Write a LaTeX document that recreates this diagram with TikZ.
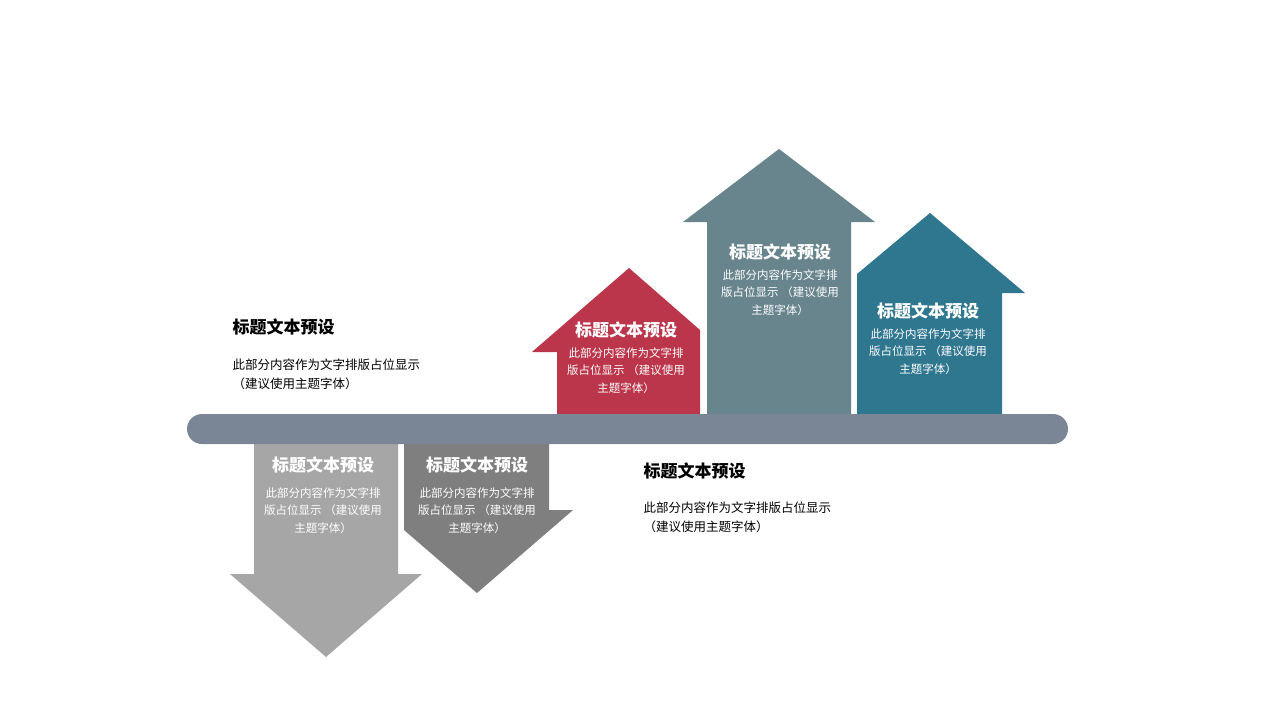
\documentclass[tikz,border=0pt]{standalone}
\usepackage{fontspec}
\setmainfont{Noto Sans CJK SC}
\usetikzlibrary{positioning}
\definecolor{cbar}{RGB}{122, 133, 149}
\definecolor{cred}{RGB}{187, 54, 74}
\definecolor{cslate}{RGB}{104, 132, 141}
\definecolor{cteal}{RGB}{47, 118, 143}
\definecolor{clight}{RGB}{166, 166, 166}
\definecolor{cdark}{RGB}{127, 127, 127}

\begin{document}
\begin{tikzpicture}[x=1pt, y=-1pt,
    ttl/.style={text=white, font=\bfseries\fontsize{17}{20}\selectfont},
    txt/.style={text=white, font=\fontsize{11.5}{17.5}\selectfont, align=center},
    dttl/.style={text=black, font=\bfseries\fontsize{17}{20}\selectfont, anchor=west},
    dtxt/.style={text=black, font=\fontsize{12.5}{19.5}\selectfont, align=left, anchor=north west}]
    \useasboundingbox (0, 0) rectangle (1280, 720);

    % Down arrows
    \fill [cdark] (404, 440) -- (549, 440) -- (549, 510) -- (573, 510) -- (477, 593) -- (404, 530) -- cycle;
    \fill [clight] (254, 440) -- (398, 440) -- (398, 574) -- (422, 574) -- (326, 657) -- (230, 574) -- (254, 574) -- cycle;

    % Up arrows
    \fill [cred] (557, 418) -- (557, 352) -- (532, 352) -- (629, 268) -- (700, 330) -- (700, 418) -- cycle;
    \fill [cslate] (707, 418) -- (707, 222) -- (683, 222) -- (779, 149) -- (875, 222) -- (851, 222) -- (851, 418) -- cycle;
    \fill [cteal] (857, 418) -- (857, 274) -- (930, 213) -- (1025, 293) -- (1002, 293) -- (1002, 418) -- cycle;

    % Bar
    \fill [cbar, rounded corners=15pt] (187, 414) rectangle (1068, 444);

    % Arrow texts
    \node [ttl] (t1) at (626, 330) {标题文本预设};
    \node [txt, below=2pt of t1] (b1) {此部分内容作为文字排\\版占位显示 （建议使用\\主题字体）};
    \node [ttl] (t2) at (780, 252) {标题文本预设};
    \node [txt, below=2pt of t2] (b2) {此部分内容作为文字排\\版占位显示 （建议使用\\主题字体）};
    \node [ttl] (t3) at (928, 311) {标题文本预设};
    \node [txt, below=2pt of t3] (b3) {此部分内容作为文字排\\版占位显示 （建议使用\\主题字体）};
    \node [ttl] (t4) at (323, 465) {标题文本预设};
    \node [txt, below=7pt of t4] (b4) {此部分内容作为文字排\\版占位显示 （建议使用\\主题字体）};
    \node [ttl] (t5) at (477, 465) {标题文本预设};
    \node [txt, below=7pt of t5] (b5) {此部分内容作为文字排\\版占位显示 （建议使用\\主题字体）};

    % Side texts
    \node [dttl] (t6) at (229, 327) {标题文本预设};
    \node [dtxt] (b6) at (229, 355) {此部分内容作为文字排版占位显示\\（建议使用主题字体）};
    \node [dttl] (t7) at (640, 471) {标题文本预设};
    \node [dtxt] (b7) at (640, 498) {此部分内容作为文字排版占位显示\\（建议使用主题字体）};
\end{tikzpicture}
\end{document}
